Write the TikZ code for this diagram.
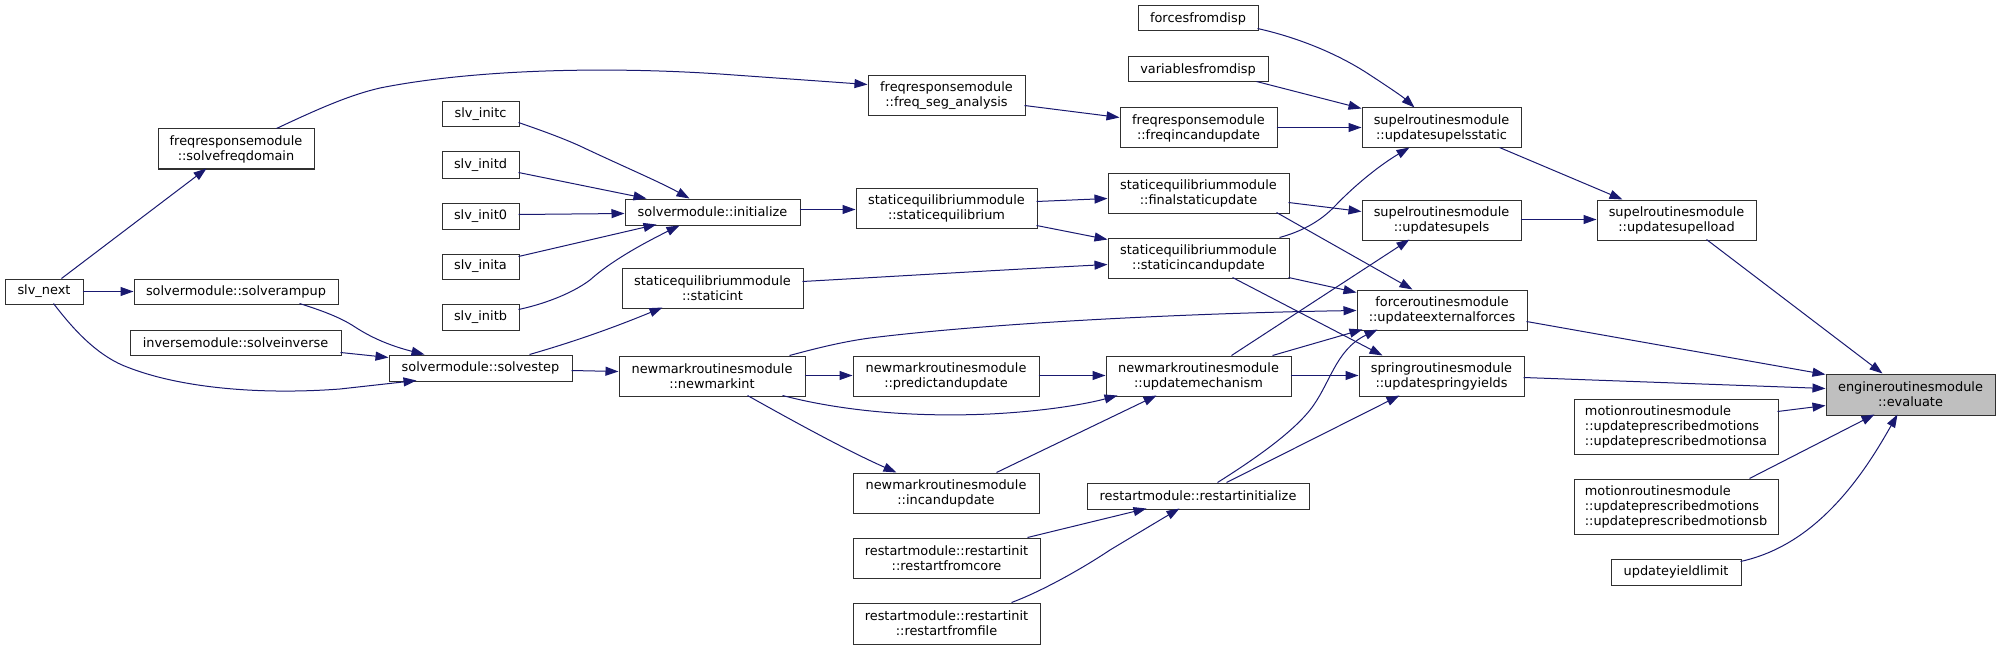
\documentclass[tikz,border=0pt]{standalone}
\usepackage{fontspec}
\setmainfont{DejaVu Sans}
\usetikzlibrary{arrows.meta}
\definecolor{edgeblue}{HTML}{191970}
\definecolor{evalgray}{HTML}{BFBFBF}
\definecolor{boxline}{HTML}{303030}
\begin{document}
\begin{tikzpicture}[x=1pt,y=-1pt,
  box/.style={draw=boxline, line width=1pt, inner sep=0pt, align=center, font=\fontsize{12.9}{15}\selectfont},
  sz/.style 2 args={minimum width=#1pt, minimum height=#2pt},
  edge/.style={draw=edgeblue, line width=1pt, -{Triangle[length=13pt,width=9pt]}},
]
\useasboundingbox (0,0) rectangle (2000,650);

% nodes
\node[box,sz={78}{25}] (slvnext) at (44,291.5) {slv\_next};
\node[box,sz={156}{40}] (solvefreqdomain) at (236,149) {freqresponsemodule\\::solvefreqdomain};
\node[box,sz={204}{25}] (solverampup) at (236,291.5) {solvermodule::solverampup};
\node[box,sz={211}{25}] (solveinverse) at (235.5,342.5) {inversemodule::solveinverse};
\node[box,sz={183}{26}] (solvestep) at (480.5,368) {solvermodule::solvestep};
\node[box,sz={77}{25}] (slvinitc) at (480.5,114.5) {slv\_initc};
\node[box,sz={77}{26}] (slvinitd) at (480.5,165) {slv\_initd};
\node[box,sz={77}{26}] (slvinit0) at (480.5,216) {slv\_init0};
\node[box,sz={77}{25}] (slvinita) at (480.5,266.5) {slv\_inita};
\node[box,sz={77}{26}] (slvinitb) at (480.5,317) {slv\_initb};
\node[box,sz={175}{26}] (initialize) at (712.5,212) {solvermodule::initialize};
\node[box,sz={181}{40}] (staticint) at (712.5,288) {staticequilibriummodule\\::staticint};
\node[box,sz={186}{40}] (newmarkint) at (712,376) {newmarkroutinesmodule\\::newmarkint};
\node[box,sz={157}{40}] (freqseg) at (946.5,96) {freqresponsemodule\\::freq\_seg\_analysis};
\node[box,sz={181}{40}] (staticeq) at (946.5,208) {staticequilibriummodule\\::staticequilibrium};
\node[box,sz={186}{40}] (predict) at (946,376) {newmarkroutinesmodule\\::predictandupdate};
\node[box,sz={186}{40}] (incand) at (946,493) {newmarkroutinesmodule\\::incandupdate};
\node[box,sz={187}{40}] (rcore) at (946.5,558) {restartmodule::restartinit\\::restartfromcore};
\node[box,sz={187}{41}] (rfile) at (946.5,623.5) {restartmodule::restartinit\\::restartfromfile};
\node[box,sz={120}{25}] (forcesfromdisp) at (1198,18.5) {forcesfromdisp};
\node[box,sz={140}{25}] (variablesfromdisp) at (1198,69.5) {variablesfromdisp};
\node[box,sz={157}{40}] (freqinc) at (1198.5,128) {freqresponsemodule\\::freqincandupdate};
\node[box,sz={181}{40}] (finalstatic) at (1198.5,193) {staticequilibriummodule\\::finalstaticupdate};
\node[box,sz={181}{40}] (staticinc) at (1198.5,258) {staticequilibriummodule\\::staticincandupdate};
\node[box,sz={185}{40}] (updmech) at (1198.5,376) {newmarkroutinesmodule\\::updatemechanism};
\node[box,sz={222}{26}] (restartinit) at (1198,496) {restartmodule::restartinitialize};
\node[box,sz={159}{40}] (supelsstatic) at (1441.5,128) {supelroutinesmodule\\::updatesupelsstatic};
\node[box,sz={159}{40}] (supels) at (1441.5,220) {supelroutinesmodule\\::updatesupels};
\node[box,sz={170}{40}] (extforces) at (1442,310) {forceroutinesmodule\\::updateexternalforces};
\node[box,sz={165}{40}] (springy) at (1441.5,376) {springroutinesmodule\\::updatespringyields};
\node[box,sz={159}{40}] (supelload) at (1676.5,220) {supelroutinesmodule\\::updatesupelload};
\node[box,sz={169}{41},fill=evalgray] (evaluate) at (1910.5,394.5) {engineroutinesmodule\\::evaluate};
\node[box,sz={204}{55},align=left] (pma) at (1676,426.5) {motionroutinesmodule\\::updateprescribedmotions\\::updateprescribedmotionsa};
\node[box,sz={204}{55},align=left] (pmb) at (1676,506.5) {motionroutinesmodule\\::updateprescribedmotions\\::updateprescribedmotionsb};
\node[box,sz={130}{26}] (yieldlimit) at (1676,572) {updateyieldlimit};

% edges
\draw[edge] ([shift={(57,0)}]slvnext.north west) -- ([shift={(49,40)}]solvefreqdomain.north west);
\draw[edge] ([shift={(78,13)}]slvnext.north west) -- ([shift={(0,13)}]solverampup.north west);
\draw[edge] ([shift={(49,25)}]slvnext.north west) .. controls (70,325) and (95,355) .. (127,367) .. controls (180,388) and (260,395) .. (340,389) -- ([shift={(28,26)}]solvestep.north west);
\draw[edge] ([shift={(119,0)}]solvefreqdomain.north west) .. controls (320,108) and (350,95) .. (380,88) .. controls (470,70) and (600,66) .. (720,74) -- ([shift={(0,9)}]freqseg.north west);
\draw[edge] ([shift={(166,25)}]solverampup.north west) .. controls (320,310) and (340,317) .. (355,327) .. controls (375,340) and (395,347) .. ([shift={(36,0)}]solvestep.north west);
\draw[edge] ([shift={(211,23)}]solveinverse.north west) -- ([shift={(0,3)}]solvestep.north west);
\draw[edge] ([shift={(77,21)}]slvinitc.north west) .. controls (540,130) and (560,137) .. (580,146) .. controls (620,165) and (660,182) .. ([shift={(65,0)}]initialize.north west);
\draw[edge] ([shift={(77,21)}]slvinitd.north west) -- ([shift={(22,0)}]initialize.north west);
\draw[edge] ([shift={(77,12)}]slvinit0.north west) -- ([shift={(0,15)}]initialize.north west);
\draw[edge] ([shift={(77,3)}]slvinita.north west) -- ([shift={(32,26)}]initialize.north west);
\draw[edge] ([shift={(77,6)}]slvinitb.north west) .. controls (540,305) and (570,295) .. (590,280) .. controls (610,262) and (640,245) .. ([shift={(55,27)}]initialize.north west);
\draw[edge] ([shift={(141,0)}]solvestep.north west) .. controls (580,340) and (620,325) .. ([shift={(41,40)}]staticint.north west);
\draw[edge] ([shift={(183,16)}]solvestep.north west) -- ([shift={(0,16)}]newmarkint.north west);
\draw[edge] ([shift={(175,11)}]initialize.north west) -- ([shift={(0,22)}]staticeq.north west);
\draw[edge] ([shift={(157,30)}]freqseg.north west) -- ([shift={(0,10)}]freqinc.north west);
\draw[edge] ([shift={(181,14)}]staticeq.north west) -- ([shift={(0,26)}]finalstatic.north west);
\draw[edge] ([shift={(181,38)}]staticeq.north west) -- ([shift={(0,2)}]staticinc.north west);
\draw[edge] ([shift={(181,14)}]staticint.north west) .. controls (900,276) and (1000,270) .. ([shift={(0,27)}]staticinc.north west);
\draw[edge] ([shift={(171,0)}]newmarkint.north west) .. controls (810,350) and (840,342) .. (870,338) .. controls (1000,322) and (1200,313) .. ([shift={(0,21)}]extforces.north west);
\draw[edge] ([shift={(186,20)}]newmarkint.north west) -- ([shift={(0,20)}]predict.north west);
\draw[edge] ([shift={(164,40)}]newmarkint.north west) .. controls (830,408) and (900,418) .. (990,414) .. controls (1050,411) and (1090,403) .. ([shift={(12,40)}]updmech.north west);
\draw[edge] ([shift={(129,40)}]newmarkint.north west) .. controls (800,425) and (850,452) .. ([shift={(44,0)}]incand.north west);
\draw[edge] ([shift={(186,20)}]predict.north west) -- ([shift={(0,20)}]updmech.north west);
\draw[edge] ([shift={(144,0)}]incand.north west) -- ([shift={(51,40)}]updmech.north west);
\draw[edge] ([shift={(175,0)}]rcore.north west) -- ([shift={(60,26)}]restartinit.north west);
\draw[edge] ([shift={(159,0)}]rfile.north west) .. controls (1040,592) and (1080,570) .. (1110,550) .. controls (1140,532) and (1160,520) .. ([shift={(93,26)}]restartinit.north west);
\draw[edge] ([shift={(157,20)}]freqinc.north west) -- ([shift={(0,20)}]supelsstatic.north west);
\draw[edge] ([shift={(120,23)}]forcesfromdisp.north west) .. controls (1300,38) and (1340,55) .. (1370,75) .. controls (1390,88) and (1403,97) .. ([shift={(53,0)}]supelsstatic.north west);
\draw[edge] ([shift={(129,25)}]variablesfromdisp.north west) -- ([shift={(0,1)}]supelsstatic.north west);
\draw[edge] ([shift={(172,0)}]staticinc.north west) .. controls (1300,232) and (1320,222) .. (1335,206) .. controls (1355,185) and (1380,165) .. ([shift={(48,40)}]supelsstatic.north west);
\draw[edge] ([shift={(181,30)}]finalstatic.north west) -- ([shift={(0,12)}]supels.north west);
\draw[edge] ([shift={(169,40)}]finalstatic.north west) -- ([shift={(56,0)}]extforces.north west);
\draw[edge] ([shift={(181,40)}]staticinc.north west) -- ([shift={(0,3)}]extforces.north west);
\draw[edge] ([shift={(125,40)}]staticinc.north west) -- ([shift={(24,0)}]springy.north west);
\draw[edge] ([shift={(126,0)}]updmech.north west) -- ([shift={(48,40)}]supels.north west);
\draw[edge] ([shift={(167,0)}]updmech.north west) -- ([shift={(6,40)}]extforces.north west);
\draw[edge] ([shift={(185,20)}]updmech.north west) -- ([shift={(0,20)}]springy.north west);
\draw[edge] ([shift={(131,0)}]restartinit.north west) .. controls (1250,462) and (1290,435) .. (1310,410) .. controls (1330,385) and (1335,350) .. ([shift={(21,40)}]extforces.north west);
\draw[edge] ([shift={(140,0)}]restartinit.north west) -- ([shift={(41,40)}]springy.north west);
\draw[edge] ([shift={(138,40)}]supelsstatic.north west) -- ([shift={(26,0)}]supelload.north west);
\draw[edge] ([shift={(159,20)}]supels.north west) -- ([shift={(0,20)}]supelload.north west);
\draw[edge] ([shift={(110,40)}]supelload.north west) -- ([shift={(57,0)}]evaluate.north west);
\draw[edge] ([shift={(170,32)}]extforces.north west) -- ([shift={(0,1)}]evaluate.north west);
\draw[edge] ([shift={(165,22)}]springy.north west) -- ([shift={(0,15)}]evaluate.north west);
\draw[edge] ([shift={(204,13)}]pma.north west) -- ([shift={(0,32)}]evaluate.north west);
\draw[edge] ([shift={(176,0)}]pmb.north west) -- ([shift={(49,41)}]evaluate.north west);
\draw[edge] ([shift={(130,3)}]yieldlimit.north west) .. controls (1770,555) and (1800,540) .. (1830,510) .. controls (1860,480) and (1880,445) .. ([shift={(72,41)}]evaluate.north west);
\end{tikzpicture}
\end{document}
